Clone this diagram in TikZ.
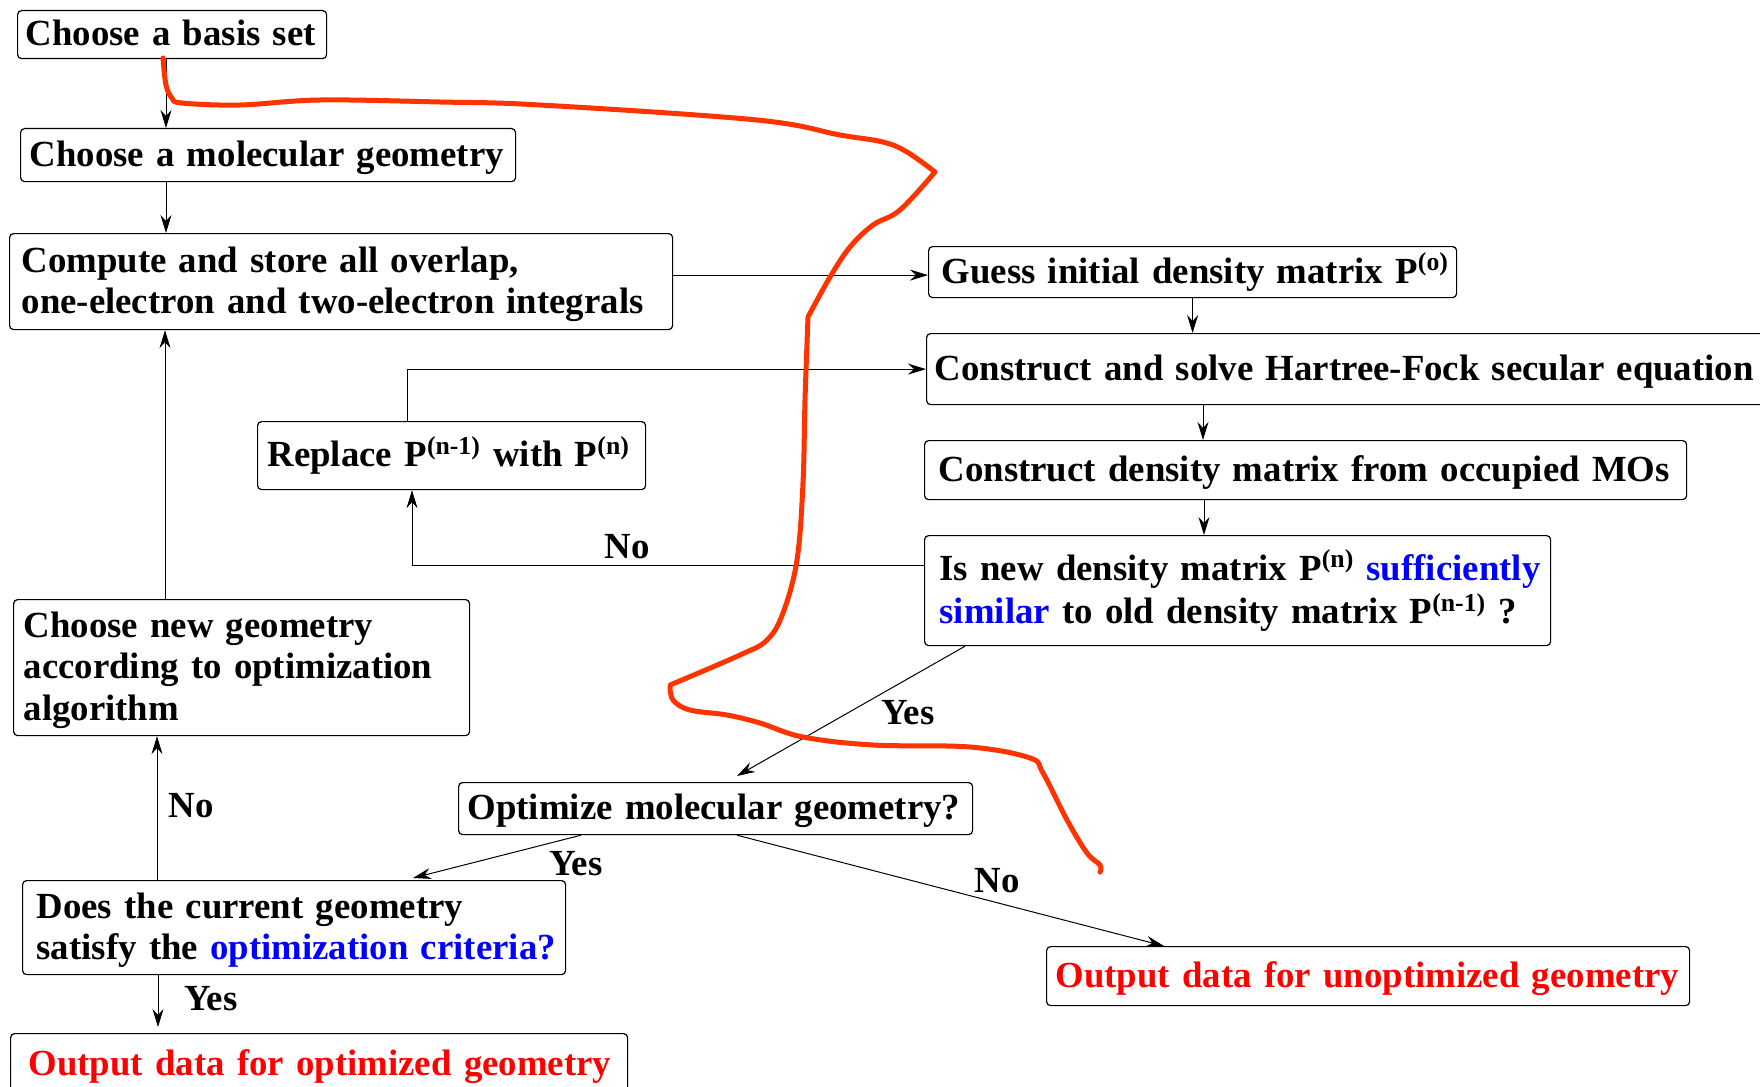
\documentclass[tikz,border=0pt]{standalone}
\usepackage{fontspec}
\setmainfont{Liberation Serif}
\usepackage{xcolor}
\usepackage{tikz}
\usetikzlibrary{arrows.meta,positioning,calc}
\definecolor{cNote}{HTML}{0000FF}
\definecolor{cOut}{HTML}{FF0000}
\definecolor{cScrib}{HTML}{FF3300}
\tikzset{
  box/.style={rounded corners=2pt, draw=black, line width=0.6pt, anchor=north west,
              align=left, font=\bfseries\fontsize{18.4}{20.8}\selectfont, inner ysep=0pt,
              execute at begin node={\rightskip=0pt plus 1fil minus 30pt\rule{0pt}{17.5pt}\hyphenpenalty=10000},
              execute at end node=\strut},
  flow/.style={-{Stealth[length=9pt,width=5.5pt,inset=3pt]}, line width=0.5pt},
  lbl/.style={font=\bfseries\fontsize{18.4}{20.8}\selectfont, inner sep=0pt},
  scrib/.style={draw=cScrib, line width=2.5pt, line cap=round, line join=round},
}
\begin{document}
\begin{tikzpicture}[x=0.5pt, y=-0.5pt]
\useasboundingbox (0,0) rectangle (1760,1086);
\node[box, text width=146.5pt, inner xsep=4pt, minimum height=24pt] (basis) at (17,10) {Choose a basis set};
\node[box, text width=238.5pt, inner xsep=4.5pt, minimum height=26.5pt] (molgeo) at (20,128) {Choose a molecular geometry};
\node[box, text width=319.5pt, inner xsep=6pt, minimum height=48pt] (compute) at (9,233)
  {Compute and store all overlap,\\one-electron and two-electron integrals};
\node[box, text width=251pt, inner xsep=6.5pt, minimum height=25.5pt] (guess) at (928,246)
  {Guess initial density matrix P\textsuperscript{(o)}};
\node[box, text width=417pt, inner xsep=4pt, minimum height=35.5pt] (hf) at (926,333)
  {Construct and solve Hartree-Fock secular equation};
\node[box, text width=184pt, inner xsep=5pt, minimum height=34pt] (replace) at (257,421)
  {Replace P\textsuperscript{(n-1)} with P\textsuperscript{(n)}};
\node[box, text width=367pt, inner xsep=7pt, minimum height=29.5pt] (density) at (924,440)
  {Construct density matrix from occupied MOs};
\node[box, text width=298pt, inner xsep=7.5pt, minimum height=55pt] (isnew) at (924,535)
  {Is new density matrix P\textsuperscript{(n)} \textcolor{cNote}{sufficiently}\\[1pt]
   \textcolor{cNote}{similar} to old density matrix P\textsuperscript{(n-1)} ?};
\node[box, text width=218pt, inner xsep=5pt, minimum height=68pt] (choosenew) at (13,599)
  {Choose new geometry\\according to optimization\\algorithm};
\node[box, text width=248pt, inner xsep=4.5pt, minimum height=26pt] (optimize) at (458,782)
  {Optimize molecular geometry?};
\node[box, text width=257.5pt, inner xsep=7pt, minimum height=47pt] (does) at (22,880)
  {Does the current geometry\\satisfy the \textcolor{cNote}{optimization criteria?}};
\node[box, text=cOut, text width=312.5pt, inner xsep=4.5pt, minimum height=29.5pt] (outunopt) at (1046,946)
  {Output data for unoptimized geometry};
\node[box, text=cOut, text width=290.5pt, inner xsep=9pt, minimum height=31pt] (outopt) at (10,1033)
  {Output data for optimized geometry};
\draw[flow] ([xshift=74.5pt]basis.south west) -- ([xshift=74.5pt]basis.south west |- molgeo.north);
\draw[flow] ([xshift=73pt]molgeo.south west) -- ([xshift=73pt]molgeo.south west |- compute.north);
\draw[flow] ([yshift=-1.5pt]compute.east |- guess.west) -- ([yshift=-1.5pt]guess.west);
\draw[flow] (guess.south) -- (guess.south |- hf.north);
\draw[flow] ([xshift=138.5pt]hf.south west) -- ([xshift=138.5pt]hf.south west |- density.north);
\draw[flow] ([xshift=140pt]density.south west) -- ([xshift=140pt]density.south west |- isnew.north);
\draw[flow] ([yshift=-15pt]isnew.north west) -| ([xshift=77.5pt]replace.south west)
  node[lbl, pos=0.29, yshift=9pt] {No};
\draw[flow] ([xshift=75pt]replace.north west) |- (hf.west);
\draw[flow] ([xshift=20.5pt]isnew.south west) -- ([xshift=139.5pt,yshift=3pt]optimize.north west)
  node[lbl, pos=0.25, yshift=-17pt] {Yes};
\draw[flow] ([xshift=61.5pt]optimize.south west) -- ([xshift=195.5pt,yshift=1pt]does.north west)
  node[lbl, pos=0.03, xshift=0pt, yshift=-13.5pt] {Yes};
\draw[flow] ([xshift=139.5pt]optimize.south west) -- ([xshift=59pt]outunopt.north west)
  node[lbl, pos=0.61, yshift=11pt] {No};
\draw[flow] ([xshift=67.5pt]does.north west) -- ([xshift=67.5pt]does.north west |- choosenew.south)
  node[lbl, pos=0.52, xshift=17pt] {No};
\draw[flow] ([xshift=76pt]choosenew.north west) -- ([xshift=76pt]choosenew.north west |- compute.south);
\draw[flow] ([xshift=68pt]does.south west) -- ([xshift=68pt,yshift=3pt]does.south west |- outopt.north)
  node[lbl, pos=0.45, xshift=26.5pt] {Yes};
\draw[scrib] plot[smooth, tension=0.6] coordinates {(163,58) (166,85) (172,98) (182,103) (240,105) (320,100)
    (440,102) (540,105) (757,120) (840,135) (883,142) (907,152) (935,172)}
  -- plot[smooth, tension=0.6] coordinates {(935,172) (900,210) (873,225) (850,247) (830,277) (808,317)}
  -- plot[smooth, tension=0.6] coordinates {(808,317) (805,400) (803,483) (797,560) (783,613) (767,640)
    (740,655) (670,685)}
  -- plot[smooth, tension=0.6] coordinates {(670,685) (673,700) (690,710) (727,715) (760,723) (803,737)
    (873,745) (970,747) (1030,758) (1043,773) (1067,820) (1087,853) (1100,865) (1100,872)};
\end{tikzpicture}
\end{document}
